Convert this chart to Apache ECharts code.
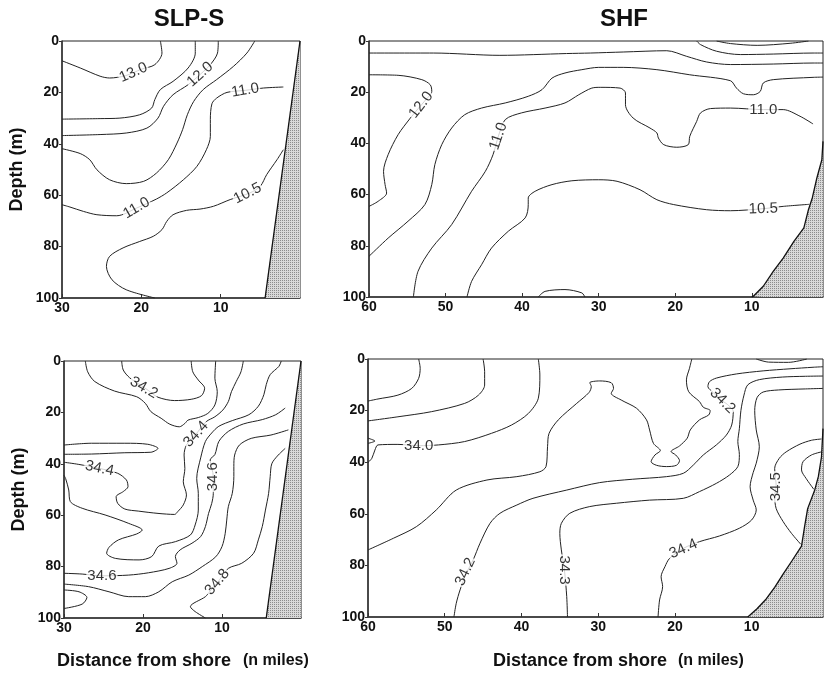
<!DOCTYPE html>
<html>
<head>
<meta charset="utf-8">
<script src="https://cdn.jsdelivr.net/npm/echarts@6/dist/echarts.min.js"></script>
<style>
  html, body { margin: 0; background: #fff; }
  #main { width: 824px; height: 673px; }
</style>
</head>
<body>
<div id="main"></div>
<script>
// ---- axes ----
const depthTicks = [0, 20, 40, 60, 80, 100];
const slpDistTicks = [10, 20, 30];
const shfDistTicks = [10, 20, 30, 40, 50, 60];

// ---- SLP-S temperature (top left), points are [distance, depth] ----
const slpTempLines = [
  [[30,7.7],[27.7,10.5],[25.2,13.7],[24,14.4],[22,13.5],[20,11],[18.3,9.2],[17.4,4.7],[17.6,0]],
  [[13.2,0],[13.2,4.7],[14.1,10.5],[16,15.7],[17.6,18.9],[18.3,22.8],[18.7,26.1],[20.2,28.7],[22.7,30],[25.2,30.2],[30,30.4]],
  [[10.3,0],[10.4,4.7],[11.3,9.2],[12.4,12.5],[14.1,17],[16,20.9],[17.2,25.4],[17.9,30],[19.3,33.9],[21.9,35.8],[25.2,36.4],[30,36.8]],
  [[5.7,0],[6.7,4.7],[8.4,9.9],[10.5,15],[12.2,18.9],[13.4,23.5],[14.2,28.7],[14.8,34.5],[15.5,39.7],[16.6,46.2],[18.1,51.4],[19.7,54.6],[21.9,55.5],[24,54],[25.6,50.1],[26.5,46.2],[27.7,43.8],[30,41.9]],
  [[2.1,17.9],[4.6,18.3],[6.9,19.2],[9.2,20],[10.5,22.2],[11.1,24.4],[11.3,30.6],[11.3,37.1],[11.8,42.3],[13,48.8],[14.7,54],[16.8,59.1],[18.1,61.5],[20.6,65],[23.1,68],[25.6,67.6],[27.3,66.3],[29,64.6],[30,63.7]],
  [[2.1,42.3],[2.9,46.2],[4.2,52],[5,56.5],[6.3,59.1],[8.8,61.7],[10.9,64.3],[12.6,65.4],[14.3,65.9],[16,67.6],[16.8,70.2],[17.4,73.4],[18.5,76],[20.2,78],[22.3,80.5],[24,83.8],[24.4,87.7],[23.7,92.9],[21.9,96.8],[18.3,100]]
];
const slpTempLabels = [[21,12.3,'13.0'],[12.6,13,'12.0'],[6.9,19.2,'11.0'],[20.6,65,'11.0'],[6.6,59.3,'10.5']];
const slpTempTilt = [24, 42, 10, 30, 27];

// ---- SHF temperature (top right) ----
const shfTempLines = [
  [[60,4.7],[51.6,4.7],[42.9,5.6],[34.2,4.9],[31.1,4.7],[26.8,4.3],[21.1,3.8],[18.5,6],[15.9,8.2],[12.8,9.2],[7.2,9],[2,8.6],[0.7,8.6]],
  [[17.2,0],[16.7,1.4],[14.6,4],[11.5,5.3],[7.2,5.1],[2,4.7],[0.7,4.7]],
  [[14.6,0],[12.8,1],[9.3,1.7],[5,0.9],[2.6,0]],
  [[60,13.2],[56.2,13.4],[53.1,15.1],[52,17.1],[51.8,19.7],[52.6,23],[53.6,26.5],[54.6,30.1],[56.2,36.6],[57.5,44.4],[58.1,50.9],[57.9,56.1],[57.7,59.4],[58.8,62.6],[60,64.6]],
  [[60,84.1],[57.5,77],[54.9,70.4],[52.7,63.9],[51.8,56.1],[51.4,48.3],[50.5,40.5],[49.2,34],[47.5,28.8],[45.3,26.2],[42.2,24.2],[39.2,21.6],[37.4,19],[36.1,14.5],[34.4,12.5],[32.2,11.2],[30,10.3],[26.8,10.3],[22.4,11.2],[18.1,13.2],[12.8,15.5],[12,18.4],[11.1,20.6],[9.8,21],[8.9,19.7],[8.5,16.4],[7.2,15.1],[2,14.2],[0.7,14.1]],
  [[54.2,100],[53.6,90],[51.8,80.9],[49.2,71.7],[46.6,58.7],[44.8,50.9],[43.8,44.4],[43.1,37.2],[42.2,30.7],[40.1,28.1],[37,26.2],[34.4,24.2],[32.6,21],[30.9,18.4],[29.8,18.1],[27.2,18.4],[26.5,20.3],[26.5,24.9],[25.5,30.1],[23.3,34],[22.4,35.9],[22.2,37.9],[21.5,40.5],[19.8,41.5],[18.3,40.5],[18.1,37.2],[17.2,31.4],[16.7,28.1],[15.4,26.4],[12.8,26.2],[8.5,26.8],[5.9,26.8],[3.7,29.4],[2,32.4]],
  [[47.2,100],[46.6,93.9],[45.3,87.4],[44,80.9],[41.8,74.3],[39.6,69.1],[39.2,63.9],[39.2,61.3],[38.3,58.7],[36.1,56.1],[33.5,54.6],[30,54.2],[27.6,54.8],[24.6,58.1],[22.4,62],[20.2,63.9],[15.9,65.9],[12.8,66.3],[8.5,65.5],[5.9,64.6],[2.5,63.8]],
  [[37.9,100],[37,97.8],[34.4,97.1],[32.2,98.4],[31.8,100]]
];
const shfTempLabels = [[53.2,25,'12.0'],[43.1,37.2,'11.0'],[8.5,26.8,'11.0'],[8.5,65.6,'10.5']];
const shfTempTilt = [52, 71, 0, 2];

// ---- SLP-S salinity (bottom left) ----
const slpSalLines = [
  [[22.7,0],[22.5,3.5],[21.7,6.5],[20.5,9],[19.3,11.5],[18.1,14.1],[16,15.4],[13.9,14.9],[12.6,13.5],[12.2,10.6],[13,7.4],[13.7,4.2],[13.9,0]],
  [[27.3,0],[27,4.2],[26.1,8],[23.6,11.7],[20.8,13.9],[19.7,16.5],[19,19.7],[17.7,22.3],[16.6,24.6],[15.4,25.6],[14.7,24.3],[14.3,23],[13,22],[11.8,20.4],[10.9,17.1],[10.6,11.9],[10.9,6.7],[10.8,0]],
  [[7.3,0],[7.6,4.2],[8.2,8],[8.8,11.9],[9.2,15.8],[9.9,19.1],[10.9,21.7],[12,23.6],[13.3,28.5],[14.5,32.7],[14.8,36.6],[14.7,41.8],[14.9,47],[14.5,52.1],[14.9,56],[15.6,58.6],[16,59.7],[18.1,59.3],[20.6,58.4],[22.3,57.6],[23.2,55.4],[23.4,52.8],[22.5,50.8],[21.9,48.9],[22.1,46.3],[23.2,43.7],[25.5,41.8],[28.2,40.2],[30,39.4]],
  [[30,32.7],[26.5,32],[22.3,32],[19.4,32.4],[18.1,34],[19,35.5],[22.3,35.7],[26.5,36.2],[30,36.3]],
  [[2.5,0],[2.8,2.1],[3.9,5.3],[4.4,9.2],[4.7,13.1],[5.4,17.6],[6.6,20.9],[8.7,23.2],[10.4,25.4],[11.3,28],[12.1,31.3],[12.7,37.7],[13.2,45.7],[13,51.5],[13,58],[13.4,63.8],[14,67.7],[15.9,70.3],[18,72],[18.9,76.1],[20.5,77.4],[23.5,76.8],[24.6,74.8],[24.3,72.5],[23.1,69.6],[20.8,67.3],[20.1,65.8],[21.8,63.2],[24.8,59.9],[27.7,57.3],[29.2,54.7],[29.4,50.2],[29.8,45.7],[30,44.5]],
  [[2,18.3],[3.2,20.9],[4.9,22.8],[7.3,24.5],[9.2,27.4],[10.4,31.3],[10.9,36.4],[11.5,38.5],[11.1,45],[11.1,51.5],[11.3,55.4],[11.7,59.3],[12.1,64.4],[12.7,68.3],[13.8,70.9],[15.3,73.5],[15.9,76.1],[15.7,78.7],[16.7,80.7],[19.3,82.4],[21.8,83.3],[25.2,83.6],[27.7,82.9],[30,82.6]],
  [[1.6,26.8],[3.8,28.8],[6.3,30.1],[7.8,32.7],[8.4,36.6],[8.5,41],[8.5,45],[8.7,51.5],[9.2,56.7],[9.4,61.9],[9.6,67.2],[10,72.2],[10.8,76.2],[12.5,80],[14.2,83.3],[16.3,85.9],[18,89.8],[19.7,91.7],[21.8,91.7],[24.3,89.8],[26.9,87.8],[30,86.8]],
  [[30,89.1],[28.1,89.8],[27.1,92],[27.7,94.6],[30,96.3]],
  [[2,34],[3,37],[3.7,40],[3.9,45],[4.1,51.5],[4.5,58],[4.9,64.4],[5.4,69.6],[6,74.8],[7.5,78.7],[9.2,80.7],[10.4,85.5],[11.5,89.5],[12.1,91.7],[14,95.6],[13.4,97.5],[12.1,100]]
];
const slpSalLabels = [[19.9,10.4,'34.2'],[13.3,28.5,'34.4'],[25.5,41.8,'34.4'],[11.1,45,'34.6'],[25.2,83.6,'34.6'],[10.6,86,'34.8']];
const slpSalTilt = [-30, 48, -12, 90, 0, 50];

// ---- SHF salinity (bottom right) ----
const shfSalLines = [
  [[53.4,0],[53.2,3.6],[53.4,7.5],[54.3,11.4],[56.1,14],[58.7,15.5],[60,16.3]],
  [[45,0],[44.8,4.9],[44.8,10.1],[45.6,14],[47.4,17.2],[51.7,20.4],[56.1,22.4],[60,24]],
  [[37.8,0],[37.6,6.2],[37.8,15.2],[39.1,21.1],[41.3,25.6],[43.9,28.8],[47.4,32],[50.8,33.3],[53.4,33.6],[56.1,33.1],[58.7,33.3],[59.1,35.3],[59.5,38.5],[60,40.1]],
  [[60,30.7],[59.1,31.8],[60,32.7]],
  [[60,74],[56.7,69.5],[53.7,65],[51.1,58.5],[48.5,50.8],[44.5,46.9],[40.6,45.6],[37.6,43.7],[36.8,41.7],[36.6,34],[36.4,28.8],[35.2,23.6],[32.8,17.2],[31.2,13],[30.9,10.7],[31.1,9.2],[29.8,8.5],[28.3,9.2],[28,11.4],[28.3,13.3],[27,15.9],[25,19.1],[23.7,23.6],[23.3,27.5],[22.8,32.7],[21.9,35.5],[22.6,37.2],[23.1,39.8],[22.4,41.2],[21.1,41.7],[19.8,41.2],[19.4,39.4],[19.9,37.2],[20.5,35.9],[19.4,33.7],[18.4,30.7],[18,27.5],[16.8,23.6],[15.6,21.7],[15.4,20],[16.3,18.7],[16.8,16.5],[18.2,12.7],[18.5,8.1],[18.1,3.6],[17.8,0]],
  [[48.8,100],[48.5,94.7],[48,89.5],[47.2,83.1],[46.3,77.9],[45.4,71.4],[44.1,63.7],[42.8,59.8],[40.6,56.6],[38.5,54],[34.1,50.8],[29.8,47.9],[25.5,46.6],[21.1,45.6],[18.9,44.3],[17.6,41.1],[16.3,37.2],[14.6,33.3],[13.3,29.5],[12.6,25.6],[12.4,20.4],[13.2,17.5],[14,15.9],[15,13],[15.7,10.7],[15.5,8.8],[14.6,7.4],[12,5.8],[8.5,4.6],[5,3.8],[2,3.2],[0.7,3]],
  [[34,100],[34.1,92.1],[34.4,81.8],[34.8,74],[35,67.6],[34.8,63.7],[33.7,59.8],[31.1,57.2],[27.6,55.9],[23.3,54.7],[18.9,54],[16.8,51.4],[14.6,48.2],[12.9,45],[11.8,41.7],[11.6,37],[11.8,32],[11.6,27],[11.4,20],[11,14],[10.5,10],[9,8],[6,7],[3,6.7],[0.7,6.6]],
  [[22.2,100],[22,93.4],[21.6,88.2],[21.8,84.4],[21.3,80.5],[20.7,77.3],[18.9,73.4],[16.8,70.8],[14.2,68.6],[11.6,65.6],[10,62.4],[9.4,58.5],[9.8,54.7],[10.2,49.5],[9.8,44],[9.4,40.4],[9,34],[9.4,27.5],[9.6,20],[9.3,15],[8.5,12.8],[6.5,12],[3,11.6],[0.7,11.4]],
  [[0.9,31],[2.2,31.5],[3.7,33],[5.5,36],[6.4,38.5],[7,42.4],[6.8,49.5],[7,53],[6.8,58],[5.9,63],[4.8,67.6],[3.6,71.8]],
  [[0.9,36],[2.2,37.2],[3.3,39.8],[3.5,43],[2.9,46.3],[1.9,50.5]],
  [[9.4,0],[7.8,1.2],[5.2,1.3],[2.8,0]]
];
const shfSalLabels = [[53.4,33.6,'34.0'],[47.3,82.5,'34.2'],[13.8,16.2,'34.2'],[34.4,81.8,'34.3'],[18.9,73.6,'34.4'],[6.8,49.5,'34.5']];
const shfSalTilt = [0, 65, -45, -90, 24, 90];

// ---- shore (bottom profile) ----
const slpShore = [[0,0],[4.4,100]];
const shfTempShore = [[0.7,39.2],[0.85,46.4],[1.5,53.5],[2.1,61.3],[2.6,65.9],[3.2,73],[4.5,78.3],[5.9,84.8],[7.2,90],[8.5,95.8],[9.8,99.7],[10,100]];
const shfSalShore = [[0.7,27],[0.9,38],[1.3,45.5],[1.8,51],[2.7,58],[3.1,65],[3.5,72.5],[4.7,78],[5.9,83.4],[7,88.5],[8.1,93],[9.3,96.8],[10.5,100]];

// stipple pattern for the sea bed
var pat = document.createElement('canvas');
pat.width = 2; pat.height = 2;
var pc = pat.getContext('2d');
pc.fillStyle = '#d9d9d9'; pc.fillRect(0, 0, 2, 2);
pc.fillStyle = '#8c8c8c'; pc.fillRect(0, 0, 1, 1);

var FONT = 'Liberation Sans, Arial, sans-serif';
var series = [];

function panel(gi, lines, labels, tilt, shore) {
  lines.forEach(function (pts) {
    series.push({
      type: 'line', xAxisIndex: gi, yAxisIndex: gi, data: pts,
      showSymbol: false, smooth: 0.3, silent: true, z: 2,
      lineStyle: { color: '#222', width: 1 }
    });
  });
  series.push({
    type: 'line', xAxisIndex: gi, yAxisIndex: gi, data: shore,
    showSymbol: false, silent: true, z: 3,
    lineStyle: { color: '#111', width: 1.3 },
    areaStyle: { origin: 'end', opacity: 1, color: { image: pat, repeat: 'repeat' } }
  });
  series.push({
    type: 'scatter', xAxisIndex: gi, yAxisIndex: gi, silent: true, z: 5,
    symbolSize: 1, itemStyle: { color: 'rgba(0,0,0,0)' },
    data: labels.map(function (l, i) {
      return { value: [l[0], l[1]], name: l[2], label: { rotate: tilt[i] } };
    }),
    label: {
      show: true, position: 'inside', formatter: '{b}',
      color: '#000', fontSize: 15, fontFamily: FONT,
      backgroundColor: '#fff', padding: [0, 1]
    }
  });
}

function xAx(gi, lo, hi, ticks) {
  return {
    type: 'value', gridIndex: gi, inverse: true, min: lo, max: hi,
    axisLine: { show: true, onZero: false, lineStyle: { color: '#333', width: 1.5 } },
    axisTick: { show: true, inside: true, length: 4, customValues: ticks, lineStyle: { color: '#333' } },
    axisLabel: { customValues: ticks, margin: 3, color: '#111', fontSize: 14, fontWeight: 'bold', fontFamily: FONT },
    splitLine: { show: false }
  };
}
function yAx(gi, named) {
  return {
    type: 'value', gridIndex: gi, inverse: true, min: 0, max: 100,
    axisLine: { show: true, onZero: false, lineStyle: { color: '#333', width: 1.5 } },
    axisTick: { show: true, length: 3, customValues: depthTicks, lineStyle: { color: '#333' } },
    axisLabel: { customValues: depthTicks, margin: 3, color: '#111', fontSize: 14, fontWeight: 'bold', fontFamily: FONT },
    splitLine: { show: false },
    name: named ? 'Depth (m)' : '', nameLocation: 'middle', nameGap: 36, nameRotate: 90,
    nameTextStyle: { fontSize: 18, fontWeight: 'bold', color: '#111', fontFamily: FONT }
  };
}

panel(0, slpTempLines, slpTempLabels, slpTempTilt, slpShore);
panel(1, shfTempLines, shfTempLabels, shfTempTilt, shfTempShore);
panel(2, slpSalLines, slpSalLabels, slpSalTilt, slpShore);
panel(3, shfSalLines, shfSalLabels, shfSalTilt, shfSalShore);

function txt(x, y, s, size, align) {
  return { type: 'text', x: x, y: y, silent: true,
    style: { text: s, font: 'bold ' + size + 'px ' + FONT, fill: '#111', align: align || 'left', verticalAlign: 'middle' } };
}

var option = {
  backgroundColor: '#fff',
  animation: false,
  grid: [
    { left: 62, top: 41, width: 238, height: 257, show: true, borderColor: '#222', borderWidth: 1, outerBoundsMode: 'none' },
    { left: 369, top: 41, width: 454, height: 256, show: true, borderColor: '#222', borderWidth: 1, outerBoundsMode: 'none' },
    { left: 64, top: 361, width: 237, height: 257, show: true, borderColor: '#222', borderWidth: 1, outerBoundsMode: 'none' },
    { left: 368, top: 359, width: 455, height: 258, show: true, borderColor: '#222', borderWidth: 1, outerBoundsMode: 'none' }
  ],
  xAxis: [
    xAx(0, 0, 30, slpDistTicks),
    xAx(1, 0.7, 60, shfDistTicks),
    xAx(2, 0, 30, slpDistTicks),
    xAx(3, 0.7, 60, shfDistTicks)
  ],
  yAxis: [yAx(0, true), yAx(1, false), yAx(2, true), yAx(3, false)],
  graphic: [
    txt(189, 19, 'SLP-S', 24, 'center'),
    txt(624, 19, 'SHF', 24, 'center'),
    txt(57, 661, 'Distance from shore', 18),
    txt(243, 661, '(n miles)', 16),
    txt(493, 661, 'Distance from shore', 18),
    txt(678, 661, '(n miles)', 16)
  ],
  series: series
};

var chart = echarts.init(document.getElementById('main'));
chart.setOption(option);
</script>
</body>
</html>
